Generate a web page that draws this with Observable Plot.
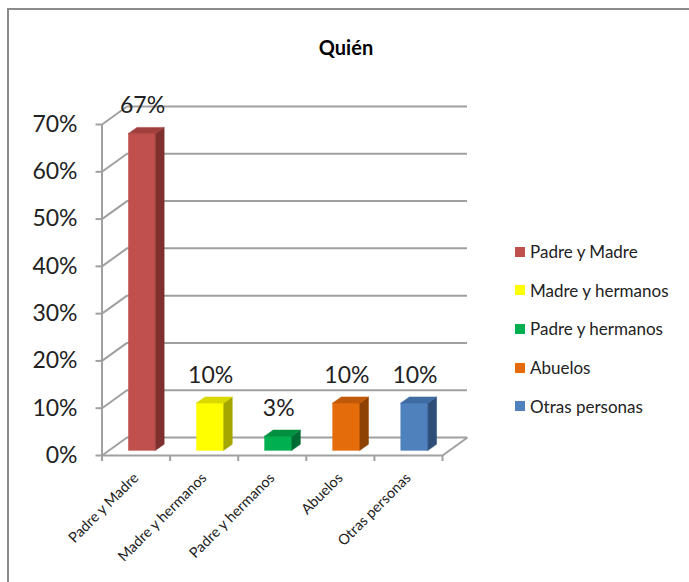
<!DOCTYPE html>
<html><head><meta charset="utf-8">
<script src="https://cdn.jsdelivr.net/npm/d3@7"></script>
<script src="https://cdn.jsdelivr.net/npm/@observablehq/plot@0.6"></script>
<style>
html,body{margin:0;padding:0;background:#fff;}
#wrap{position:relative;width:689px;height:582px;overflow:hidden;font-family:Lato,"Noto Sans",sans-serif;}
#frame{position:absolute;left:7px;top:8px;right:-10px;bottom:-10px;border-left:2.5px solid #8c8c8c;border-top:2.5px solid #8c8c8c;}
#chart{position:absolute;left:0;top:0;}
#title{position:absolute;left:0;width:692px;top:35px;text-align:center;font-weight:bold;font-size:20px;color:#000;line-height:24px;}
#legend{position:absolute;left:515px;top:232.5px;}
.row{height:38.6px;display:flex;align-items:center;font-size:17px;color:#222;}
.sw{width:10px;height:10px;margin-right:5px;flex:none;}
</style></head><body>
<div id="wrap"><div id="frame"></div><div id="chart"></div><div id="title">Quién</div><div id="legend"></div></div>
<script>
const categories = ["Padre y Madre", "Madre y hermanos", "Padre y hermanos", "Abuelos", "Otras personas"];
const values = [0.67, 0.10, 0.03, 0.10, 0.10];
const valueLabels = ["67%", "10%", "3%", "10%", "10%"];
const frontColors = ["#C0504D", "#FFFF00", "#00B050", "#E46C0A", "#4F81BD"];
const topColors = ["#A03F3C", "#D9D900", "#00903F", "#C05A08", "#3F6CA3"];
const sideColors = ["#7E302E", "#A6A600", "#006B33", "#8E4305", "#2E4E78"];
const yTicks = [0, 0.1, 0.2, 0.3, 0.4, 0.5, 0.6, 0.7];
const yTickLabels = ["0%", "10%", "20%", "30%", "40%", "50%", "60%", "70%"];

// layout
const W = 689, H = 582, mL = 101.5, mR = 247, mT = 124, mB = 127;
const n = categories.length, yMax = 0.7;
const pxX = (W - mL - mR) / n, pxY = (H - mT - mB) / yMax;
const Dx = 25 / pxX, Dy = 18 / pxY;       // depth vector in data units
const hw = 0.2, f0 = 0.26, f1 = 0.6;       // bar half width, front/back depth fraction
const grid = "#a0a0a0";

const rows = categories.map((cat, i) => ({
  i, cat, v: values[i], label: valueLabels[i],
  front: frontColors[i], top: topColors[i], side: sideColors[i], c: i + 0.5
}));
const sidePts = rows.flatMap(r => [f0, f1].map(f => ({
  cat: r.cat, fill: r.side, x: r.c + hw + f * Dx, y1: f * Dy, y2: r.v + f * Dy
})));
const topPts = rows.flatMap(r => [f0, f1].map(f => ({
  cat: r.cat, fill: r.top, y: r.v + f * Dy, x1: r.c - hw + f * Dx, x2: r.c + hw + f * Dx
})));
const bounds = d3.range(n + 1);

const chart = Plot.plot({
  width: W, height: H, marginLeft: mL, marginRight: mR, marginTop: mT, marginBottom: mB,
  x: {domain: [0, n], axis: null},
  y: {domain: [0, yMax], axis: null},
  color: {type: "identity"},
  style: {fontFamily: "Lato, 'Noto Sans', sans-serif", background: "transparent", overflow: "visible"},
  marks: [
    Plot.ruleY(yTicks, {y: d => d + Dy, x1: Dx, x2: n + Dx, stroke: grid, strokeWidth: 2}),
    Plot.link(yTicks, {x1: 0, y1: d => d, x2: Dx, y2: d => d + Dy, stroke: grid, strokeWidth: 2}),
    Plot.link([0], {x1: n, y1: 0, x2: n + Dx, y2: Dy, stroke: grid, strokeWidth: 2}),
    Plot.ruleX([0], {y1: 0, y2: yMax, stroke: grid, strokeWidth: 2}),
    Plot.ruleY([0], {x1: 0, x2: n, stroke: grid, strokeWidth: 2}),
    Plot.axisY(yTicks, {tickSize: 6, tickPadding: 18.5, tickFormat: d => yTickLabels[yTicks.indexOf(d)],
      fontSize: 23, stroke: grid, strokeWidth: 2, fill: "#222", label: null}),
    Plot.axisX(bounds, {tickSize: 6, tickFormat: () => "", stroke: grid, strokeWidth: 2, label: null}),
    Plot.rect(rows, {x1: r => r.c - hw + f0 * Dx, x2: r => r.c + hw + f0 * Dx, y1: f0 * Dy, y2: r => r.v + f0 * Dy,
      fill: "front", stroke: "front", strokeWidth: 0.5}),
    Plot.areaY(sidePts, {x: "x", y1: "y1", y2: "y2", z: "cat", fill: "fill", stroke: "fill", strokeWidth: 0.5}),
    Plot.areaX(topPts, {y: "y", x1: "x1", x2: "x2", z: "cat", fill: "fill", stroke: "fill", strokeWidth: 0.5}),
    Plot.text(rows, {x: r => r.c + f0 * Dx, y: r => r.v + f1 * Dy, text: "label", dy: -22, fontSize: 23, fill: "#222"}),
    Plot.text(rows, {x: "c", y: 0, text: "cat", rotate: -45, textAnchor: "end", lineAnchor: "top",
      dx: -4, dy: 16, fontSize: 14.5, fill: "#222"})
  ]
});
document.getElementById("chart").appendChild(chart);

const legend = document.getElementById("legend");
categories.forEach((cat, i) => {
  const row = document.createElement("div");
  row.className = "row";
  const sw = document.createElement("span");
  sw.className = "sw";
  sw.style.background = frontColors[i];
  const t = document.createElement("span");
  t.textContent = cat;
  row.appendChild(sw); row.appendChild(t);
  legend.appendChild(row);
});
</script>
</body></html>
